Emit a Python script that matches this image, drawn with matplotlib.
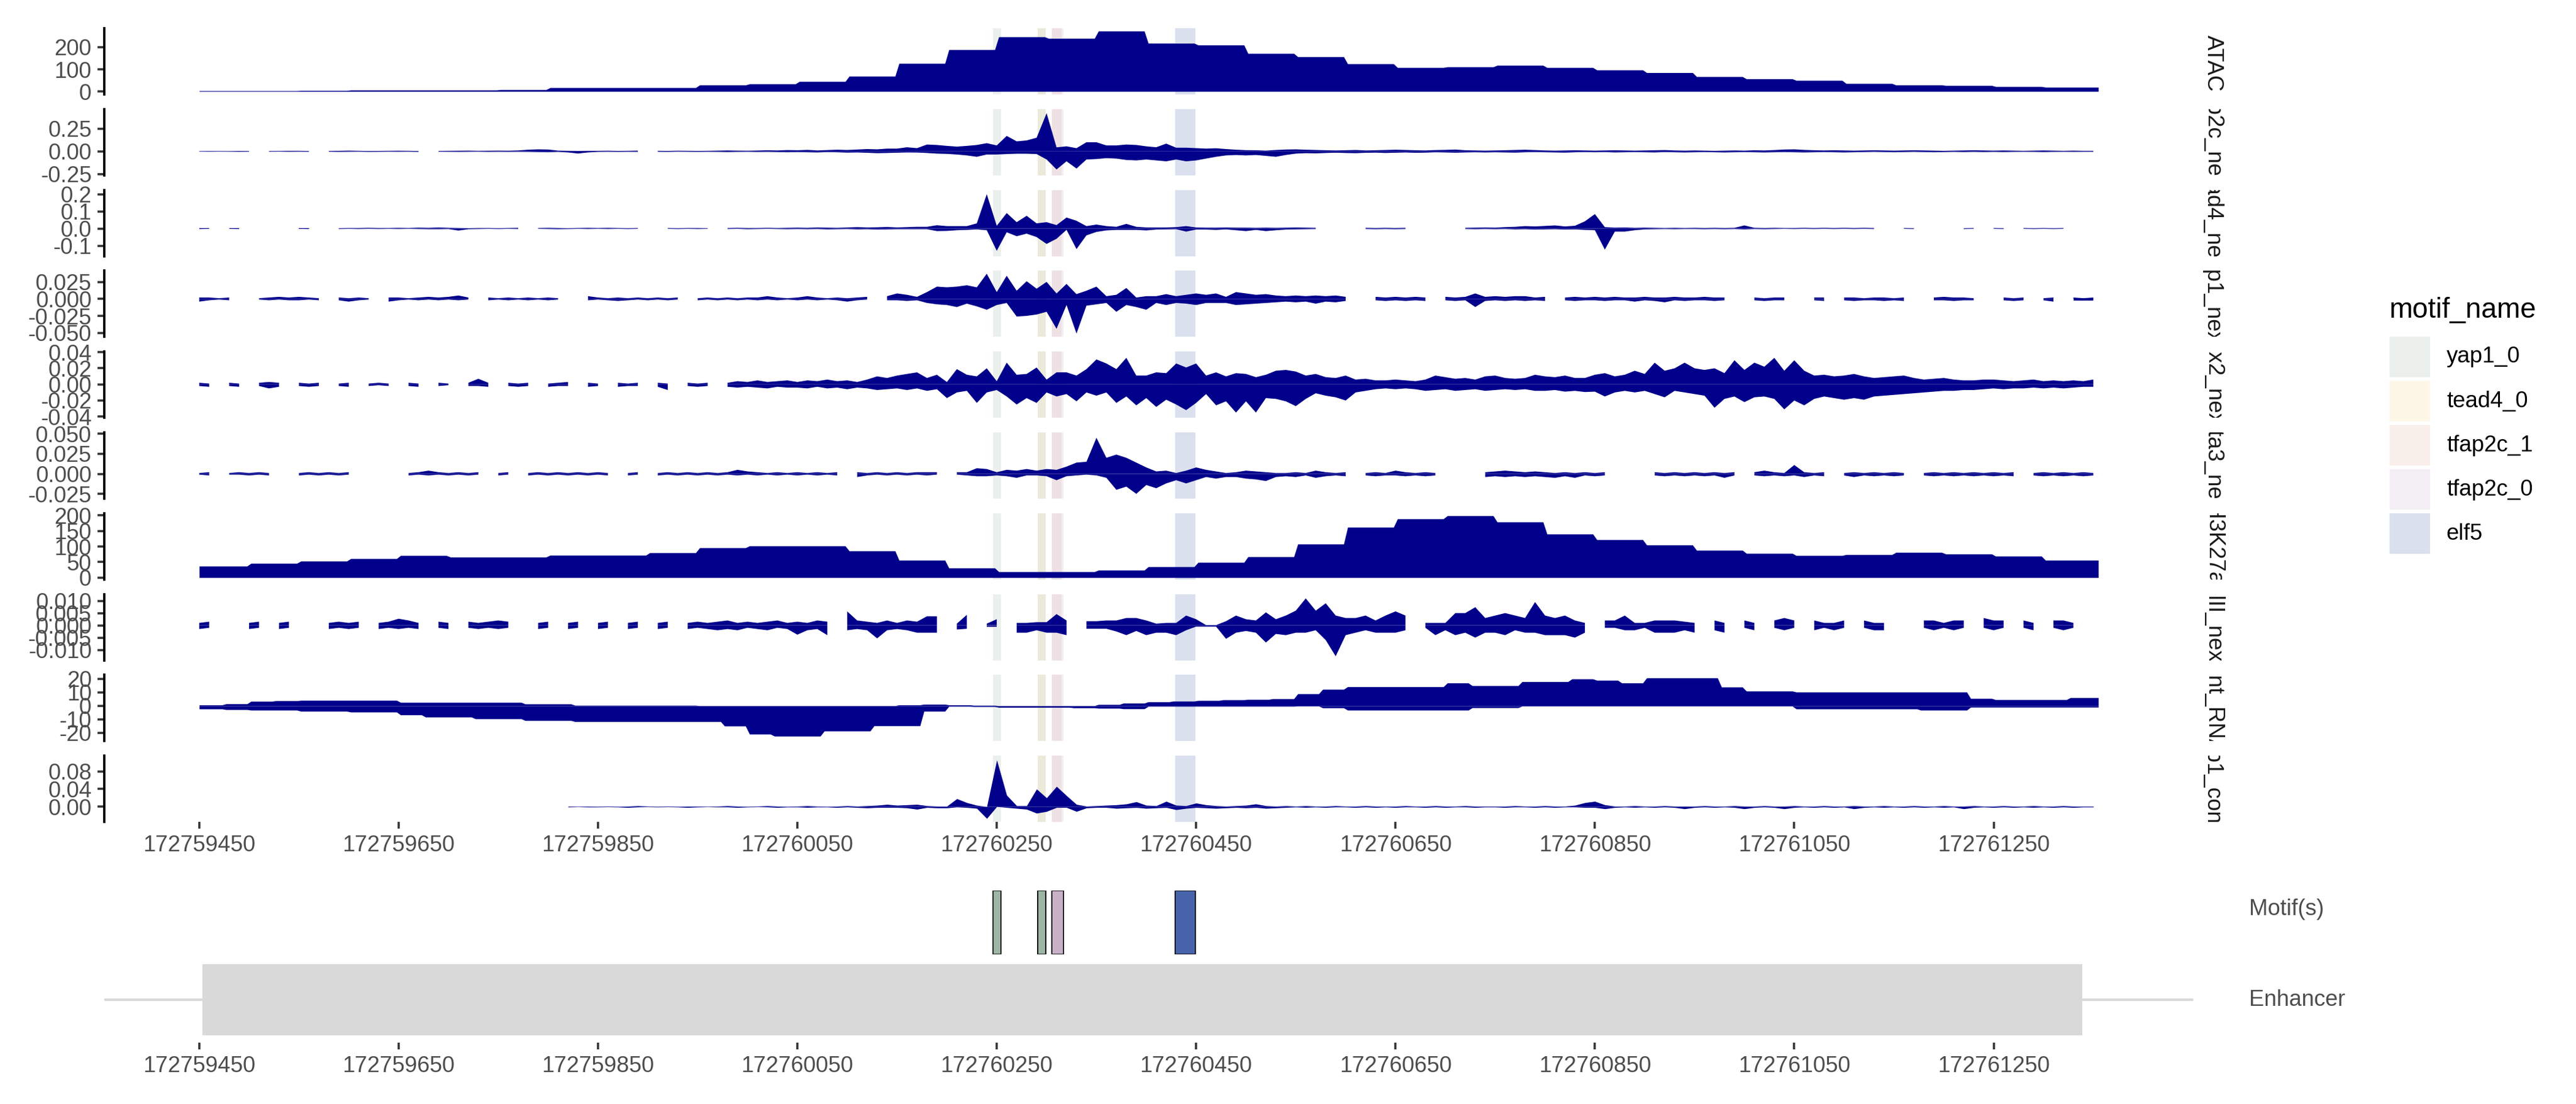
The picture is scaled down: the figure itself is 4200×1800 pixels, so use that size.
import numpy as np
import matplotlib
matplotlib.use('Agg')
import matplotlib.pyplot as plt
from matplotlib.patches import Rectangle

plt.rcParams['font.family'] = ['Liberation Sans', 'DejaVu Sans']

na = np.nan

# genomic window shown
region_start = 172759450
region_end = 172761355
xtick_pos = [172759450, 172759650, 172759850, 172760050, 172760250,
             172760450, 172760650, 172760850, 172761050, 172761250]

# ---- 50 bp bins ----
atac = [3, 3, 4, 6, 6, 6, 8, 17, 17, 17,
        29, 34, 45, 69, 127, 189, 247, 240, 273, 218,
        210, 172, 157, 125, 108, 111, 118, 108, 97, 85,
        67, 57, 50, 36, 29, 27, 22, 19, 19]
h3k27ac = [37, 46, 53, 61, 71, 66, 66, 72, 72, 80,
           96, 102, 102, 86, 56, 31, 19, 19, 24, 35,
           49, 67, 108, 162, 189, 199, 179, 140, 122, 105,
           88, 78, 71, 74, 81, 76, 69, 56, 56]

# ---- 25 bp bins ----
nascent_plus = [0.7, 1.5, 3.4, 3.8, 4.1, 4.1, 4.1, 4.1, 2.6, 2.6,
                2.6, 2.6, 2.6, 1.4, 1.4, 0.4, 0.4, 0.4, 0.4, 0.4,
                0.1, 0.1, 0.1, 0.1, 0.1, 0.1, 0.1, 0.1, 0.7, 1.2,
                0.7, 0.4, 0.1, 0.1, 0.1, 0.1, 1.0, 2.0, 3.0, 3.5,
                4.0, 4.5, 4.8, 5.3, 9.0, 12.3, 14.2, 14.2, 14.2, 14.2,
                17.0, 15.0, 15.0, 18.0, 18.0, 20.0, 19.0, 17.0, 20.8, 20.8,
                20.8, 14.0, 11.0, 11.0, 10.3, 10.3, 10.3, 10.3, 10.3, 10.3,
                10.3, 5.5, 4.6, 4.6, 4.6, 6.1, 6.1]
nascent_minus = [-2.3, -2.8, -3.2, -3.2, -4.0, -4.0, -4.6, -4.6, -6.7, -8.3,
                 -8.3, -9.6, -9.6, -10.9, -10.9, -11.7, -11.7, -11.7, -11.7, -11.7,
                 -11.7, -15.0, -21.0, -22.5, -22.5, -18.7, -18.7, -14.8, -14.8, -4.0,
                 -0.4, -0.6, -1.1, -1.1, -1.1, -1.5, -1.8, -2.2, -0.4, -0.4,
                 -0.4, -0.4, -0.4, -0.4, -0.2, -1.5, -3.2, -3.2, -3.2, -3.2,
                 -3.2, -1.4, -1.4, -0.2, -0.2, -0.2, -0.2, -0.2, -0.2, -0.2,
                 -0.2, -0.2, -0.2, -0.2, -2.3, -2.3, -2.3, -2.3, -2.3, -3.2,
                 -3.2, -1.0, -1.0, -1.0, -1.0, -1.0, -1.0]

# ---- 10 bp bins (one line = 100 bp) ----
tfap2c_plus = [
    0.003, 0.004, 0.004, 0.003, 0.005, 0.004, na, 0.004, 0.005, 0.006,
    0.006, 0.004, na, 0.005, 0.006, 0.008, 0.006, 0.004, 0.005, 0.006,
    0.007, 0.006, 0.004, na, 0.005, 0.006, 0.007, 0.008, 0.006, 0.007,
    0.008, 0.007, 0.010, 0.018, 0.022, 0.020, 0.008, 0.006, 0.005, 0.006,
    0.006, 0.007, 0.005, 0.006, 0.008, na, 0.006, 0.005, 0.007, 0.006,
    0.005, 0.006, 0.008, 0.010, 0.008, 0.007, 0.009, 0.012, 0.010, 0.014,
    0.012, 0.016, 0.010, 0.014, 0.018, 0.015, 0.020, 0.025, 0.022, 0.030,
    0.030, 0.045, 0.035, 0.075, 0.070, 0.060, 0.052, 0.060, 0.070, 0.090,
    0.065, 0.170, 0.110, 0.120, 0.150, 0.420, 0.044, 0.055, 0.035, 0.100,
    0.100, 0.065, 0.065, 0.075, 0.070, 0.055, 0.045, 0.085, 0.040, 0.040,
    0.035, 0.030, 0.034, 0.025, 0.018, 0.013, 0.012, 0.008, 0.015, 0.020,
    0.022, 0.018, 0.015, 0.012, 0.010, 0.012, 0.015, 0.010, 0.012, 0.015,
    0.018, 0.015, 0.012, 0.010, 0.014, 0.016, 0.020, 0.012, 0.010, 0.008,
    0.010, 0.012, 0.015, 0.018, 0.014, 0.010, 0.008, 0.010, 0.012, 0.010,
    0.008, 0.010, 0.012, 0.010, 0.008, 0.010, 0.012, 0.014, 0.010, 0.008,
    0.010, 0.008, 0.006, 0.008, 0.010, 0.008, 0.012, 0.010, 0.014, 0.020,
    0.022, 0.016, 0.012, 0.010, 0.012, 0.010, 0.008, 0.010, 0.012, 0.010,
    0.008, 0.010, 0.012, 0.010, 0.008, 0.006, 0.008, 0.010, 0.012, 0.010,
    0.008, 0.010, 0.008, 0.006, 0.008, 0.010, 0.008, 0.006, 0.008, 0.006,
    0.006]
tfap2c_minus = [
    -0.003, -0.004, -0.003, -0.004, -0.005, -0.004, na, -0.004, -0.003, -0.005,
    -0.004, -0.005, na, -0.004, -0.006, -0.005, -0.004, -0.006, -0.005, -0.004,
    -0.005, -0.004, -0.006, na, -0.004, -0.005, -0.006, -0.005, -0.004, -0.006,
    -0.005, -0.006, -0.005, -0.006, -0.008, -0.010, -0.006, -0.012, -0.024, -0.012,
    -0.006, -0.005, -0.006, -0.005, -0.006, na, -0.005, -0.006, -0.004, -0.005,
    -0.006, -0.005, -0.006, -0.008, -0.006, -0.005, -0.007, -0.006, -0.008, -0.010,
    -0.008, -0.010, -0.012, -0.008, -0.010, -0.014, -0.012, -0.016, -0.020, -0.018,
    -0.015, -0.012, -0.013, -0.018, -0.025, -0.028, -0.035, -0.045, -0.060, -0.035,
    -0.035, -0.030, -0.026, -0.026, -0.030, -0.090, -0.200, -0.110, -0.190, -0.090,
    -0.085, -0.075, -0.080, -0.095, -0.100, -0.090, -0.100, -0.110, -0.090, -0.110,
    -0.100, -0.080, -0.060, -0.045, -0.040, -0.045, -0.040, -0.050, -0.060, -0.040,
    -0.025, -0.020, -0.022, -0.018, -0.015, -0.018, -0.020, -0.016, -0.014, -0.018,
    -0.015, -0.012, -0.016, -0.014, -0.010, -0.012, -0.015, -0.012, -0.010, -0.012,
    -0.010, -0.012, -0.014, -0.010, -0.008, -0.010, -0.012, -0.014, -0.010, -0.008,
    -0.010, -0.008, -0.012, -0.010, -0.008, -0.010, -0.012, -0.008, -0.010, -0.012,
    -0.010, -0.008, -0.010, -0.012, -0.010, -0.008, -0.010, -0.012, -0.010, -0.008,
    -0.010, -0.012, -0.010, -0.008, -0.010, -0.012, -0.010, -0.008, -0.006, -0.008,
    -0.010, -0.008, -0.006, -0.008, -0.010, -0.008, -0.006, -0.008, -0.006, -0.008,
    -0.006, -0.008, -0.006, -0.005, -0.006, -0.008, -0.006, -0.005, -0.006, -0.005,
    -0.005]

tead4_plus = [
    0.003, 0.003, na, 0.002, 0.002, na, na, na, na, na,
    0.003, 0.003, na, na, 0.002, 0.003, 0.003, 0.004, 0.003, 0.003,
    0.004, 0.003, 0.005, 0.004, 0.006, 0.004, 0.003, 0.002, 0.003, 0.003,
    0.002, 0.003, 0.004, na, 0.003, 0.004, 0.003, 0.002, 0.003, 0.004,
    0.003, 0.004, 0.003, 0.002, 0.003, na, na, 0.003, 0.002, 0.003,
    0.003, 0.002, na, 0.003, 0.004, 0.003, 0.003, 0.004, 0.003, 0.004,
    0.005, 0.004, 0.006, 0.005, 0.004, 0.006, 0.008, 0.006, 0.007, 0.009,
    0.006, 0.008, 0.010, 0.010, 0.019, 0.014, 0.014, 0.014, 0.030, 0.200,
    0.016, 0.090, 0.037, 0.074, 0.030, 0.037, 0.020, 0.064, 0.045, 0.014,
    0.023, 0.014, 0.010, 0.027, 0.010, 0.006, 0.006, 0.006, 0.008, 0.014,
    0.006, 0.005, 0.005, 0.006, 0.005, 0.005, 0.004, 0.005, 0.004, 0.005,
    0.006, 0.005, 0.004, na, 0.004, na, na, 0.004, 0.003, 0.004,
    0.003, 0.004, na, na, na, 0.003, na, 0.004, 0.005, 0.006,
    0.005, 0.008, 0.010, 0.014, 0.012, 0.015, 0.018, 0.012, 0.016, 0.042,
    0.084, 0.008, 0.005, 0.006, 0.004, 0.005, 0.004, 0.003, 0.004, 0.003,
    0.004, 0.003, 0.004, 0.003, 0.004, 0.018, 0.004, 0.003, 0.004, 0.003,
    0.003, 0.004, 0.003, 0.004, 0.003, 0.004, 0.003, 0.004, 0.003, na,
    na, 0.003, 0.002, na, 0.003, na, na, 0.002, 0.003, na,
    0.003, 0.002, na, 0.003, 0.002, 0.003, 0.002, 0.003, na, na,
    0.002]
tead4_minus = [
    -0.003, -0.002, na, -0.002, -0.003, na, na, na, na, na,
    -0.002, -0.003, na, na, -0.003, -0.002, -0.003, -0.002, -0.003, -0.002,
    -0.003, -0.002, -0.003, -0.004, -0.004, -0.003, -0.012, -0.004, -0.003, -0.002,
    -0.003, -0.002, -0.003, na, -0.002, -0.003, -0.004, -0.003, -0.002, -0.003,
    -0.002, -0.003, -0.002, -0.003, -0.002, na, na, -0.002, -0.003, -0.002,
    -0.003, -0.002, na, -0.003, -0.002, -0.004, -0.003, -0.002, -0.003, -0.004,
    -0.003, -0.004, -0.003, -0.005, -0.004, -0.003, -0.005, -0.004, -0.006, -0.005,
    -0.004, -0.004, -0.004, -0.004, -0.015, -0.014, -0.010, -0.008, -0.005, -0.010,
    -0.130, -0.022, -0.045, -0.030, -0.050, -0.090, -0.060, -0.008, -0.120, -0.040,
    -0.020, -0.011, -0.008, -0.008, -0.008, -0.011, -0.006, -0.005, -0.004, -0.018,
    -0.006, -0.006, -0.008, -0.005, -0.010, -0.015, -0.008, -0.015, -0.010, -0.006,
    -0.005, -0.004, -0.003, na, -0.003, na, na, -0.003, -0.004, -0.003,
    -0.004, -0.003, na, na, na, -0.003, na, -0.003, -0.004, -0.003,
    -0.004, -0.003, -0.005, -0.004, -0.006, -0.005, -0.004, -0.006, -0.005, -0.008,
    -0.010, -0.123, -0.018, -0.018, -0.010, -0.005, -0.004, -0.003, -0.004, -0.003,
    -0.003, -0.004, -0.003, -0.004, -0.003, -0.005, -0.003, -0.004, -0.003, -0.002,
    -0.003, -0.002, -0.003, -0.002, -0.003, -0.002, -0.003, -0.002, -0.003, na,
    na, -0.002, -0.003, na, -0.002, na, na, -0.003, -0.002, na,
    -0.002, -0.003, na, -0.002, -0.003, -0.002, -0.003, -0.002, na, na,
    -0.002]

yap1_plus = [
    0.002, 0.002, 0.001, 0.002, na, na, 0.001, 0.002, 0.003, 0.002,
    0.003, 0.002, 0.001, na, 0.002, 0.001, 0.002, 0.001, na, 0.002,
    0.002, 0.001, 0.002, 0.003, 0.002, 0.003, 0.005, 0.002, na, 0.002,
    0.001, 0.002, 0.001, 0.002, 0.001, 0.002, 0.001, na, na, 0.004,
    0.002, 0.001, 0.002, 0.001, 0.002, 0.001, 0.002, 0.001, 0.002, na,
    0.001, 0.002, 0.001, 0.002, 0.001, 0.002, 0.002, 0.004, 0.002, 0.001,
    0.002, 0.004, 0.002, 0.001, 0.002, 0.001, 0.002, 0.003, na, 0.004,
    0.008, 0.006, 0.003, 0.010, 0.018, 0.017, 0.018, 0.020, 0.017, 0.037,
    0.010, 0.034, 0.012, 0.026, 0.015, 0.025, 0.008, 0.022, 0.007, 0.012,
    0.018, 0.004, 0.006, 0.016, 0.002, 0.004, 0.004, 0.007, 0.004, 0.006,
    0.008, 0.006, 0.008, 0.003, 0.010, 0.008, 0.006, 0.007, 0.005, 0.004,
    0.005, 0.004, 0.005, 0.004, 0.005, 0.003, na, na, 0.003, 0.002,
    0.003, 0.002, 0.003, 0.002, na, 0.003, 0.002, 0.003, 0.008, 0.003,
    0.004, 0.003, 0.004, 0.004, 0.002, 0.003, na, 0.002, 0.003, 0.002,
    0.003, 0.002, 0.003, 0.002, 0.002, 0.003, 0.002, 0.002, 0.003, 0.002,
    0.002, 0.003, 0.002, 0.002, na, na, 0.002, 0.001, 0.002, 0.002,
    na, na, 0.002, 0.002, na, 0.002, 0.002, 0.001, 0.002, 0.002,
    0.001, 0.002, na, na, 0.002, 0.003, 0.002, 0.002, 0.001, na,
    na, 0.002, 0.001, 0.002, na, 0.001, 0.002, na, 0.002, 0.001,
    0.002]
yap1_minus = [
    -0.004, -0.002, -0.001, -0.002, na, na, -0.001, -0.002, -0.001, -0.002,
    -0.002, -0.001, -0.002, na, -0.002, -0.004, -0.002, -0.001, na, -0.004,
    -0.002, -0.001, -0.002, -0.001, -0.002, -0.001, -0.002, -0.001, na, -0.002,
    -0.001, -0.002, -0.001, -0.002, -0.001, -0.002, -0.001, na, na, -0.002,
    -0.001, -0.002, -0.003, -0.002, -0.001, -0.002, -0.001, -0.002, -0.001, na,
    -0.002, -0.001, -0.002, -0.001, -0.002, -0.001, -0.002, -0.001, -0.002, -0.001,
    -0.002, -0.001, -0.002, -0.001, -0.002, -0.004, -0.002, -0.001, na, -0.002,
    -0.002, -0.003, -0.002, -0.006, -0.008, -0.009, -0.012, -0.007, -0.011, -0.016,
    -0.009, -0.006, -0.026, -0.025, -0.023, -0.019, -0.044, -0.009, -0.051, -0.010,
    -0.008, -0.006, -0.019, -0.009, -0.012, -0.016, -0.006, -0.009, -0.006, -0.007,
    -0.009, -0.006, -0.006, -0.006, -0.009, -0.008, -0.007, -0.006, -0.005, -0.004,
    -0.005, -0.004, -0.007, -0.004, -0.005, -0.003, na, na, -0.002, -0.003,
    -0.002, -0.003, -0.002, -0.003, na, -0.002, -0.003, -0.002, -0.012, -0.003,
    -0.002, -0.003, -0.002, -0.003, -0.002, -0.003, na, -0.002, -0.003, -0.002,
    -0.002, -0.003, -0.002, -0.002, -0.004, -0.002, -0.003, -0.005, -0.002, -0.003,
    -0.002, -0.002, -0.003, -0.002, na, na, -0.002, -0.003, -0.002, -0.002,
    na, na, -0.002, -0.003, na, -0.002, -0.003, -0.002, -0.002, -0.003,
    -0.002, -0.003, na, na, -0.002, -0.002, -0.003, -0.002, -0.002, na,
    na, -0.002, -0.003, -0.002, na, -0.002, -0.004, na, -0.002, -0.002,
    -0.002]

cdx2_plus = [
    0.002, 0.001, na, 0.002, 0.001, na, 0.002, 0.003, 0.002, na,
    0.002, 0.001, 0.002, na, 0.001, 0.002, na, 0.001, 0.002, 0.001,
    na, 0.002, 0.001, na, 0.002, 0.001, na, 0.002, 0.007, 0.002,
    na, 0.002, 0.001, 0.002, na, 0.001, 0.002, 0.003, na, 0.002,
    0.001, na, 0.002, 0.001, 0.002, na, 0.002, 0.001, na, 0.002,
    0.001, 0.002, na, 0.002, 0.004, 0.003, 0.005, 0.003, 0.004, 0.005,
    0.003, 0.005, 0.004, 0.006, 0.004, 0.005, 0.003, 0.006, 0.010, 0.008,
    0.011, 0.013, 0.015, 0.008, 0.012, 0.003, 0.019, 0.012, 0.010, 0.020,
    0.004, 0.027, 0.012, 0.013, 0.021, 0.006, 0.015, 0.015, 0.011, 0.019,
    0.031, 0.026, 0.019, 0.033, 0.011, 0.011, 0.015, 0.014, 0.026, 0.021,
    0.026, 0.011, 0.015, 0.010, 0.014, 0.013, 0.009, 0.012, 0.017, 0.018,
    0.016, 0.011, 0.013, 0.009, 0.008, 0.011, 0.006, 0.007, 0.005, 0.005,
    0.006, 0.005, 0.004, 0.006, 0.011, 0.009, 0.007, 0.008, 0.006, 0.010,
    0.011, 0.008, 0.007, 0.008, 0.012, 0.010, 0.009, 0.011, 0.008, 0.008,
    0.012, 0.014, 0.010, 0.012, 0.017, 0.013, 0.027, 0.017, 0.020, 0.027,
    0.020, 0.018, 0.020, 0.014, 0.030, 0.018, 0.027, 0.022, 0.033, 0.017,
    0.030, 0.017, 0.011, 0.012, 0.010, 0.011, 0.013, 0.010, 0.008, 0.009,
    0.010, 0.011, 0.008, 0.006, 0.007, 0.008, 0.006, 0.005, 0.005, 0.006,
    0.006, 0.005, 0.004, 0.005, 0.006, 0.004, 0.005, 0.004, 0.005, 0.004,
    0.006]
cdx2_minus = [
    -0.002, -0.003, na, -0.002, -0.003, na, -0.002, -0.005, -0.003, na,
    -0.002, -0.003, -0.002, na, -0.002, -0.003, na, -0.002, -0.001, -0.002,
    na, -0.002, -0.003, na, -0.002, -0.001, na, -0.002, -0.002, -0.003,
    na, -0.002, -0.003, -0.002, na, -0.003, -0.002, -0.002, na, -0.003,
    -0.002, na, -0.003, -0.002, -0.002, na, -0.003, -0.007, na, -0.002,
    -0.003, -0.002, na, -0.003, -0.004, -0.003, -0.004, -0.005, -0.003, -0.004,
    -0.004, -0.005, -0.003, -0.005, -0.004, -0.006, -0.004, -0.005, -0.007, -0.006,
    -0.005, -0.007, -0.005, -0.008, -0.006, -0.017, -0.010, -0.008, -0.023, -0.010,
    -0.007, -0.015, -0.025, -0.017, -0.023, -0.010, -0.015, -0.012, -0.021, -0.010,
    -0.014, -0.010, -0.023, -0.015, -0.026, -0.017, -0.028, -0.019, -0.025, -0.032,
    -0.023, -0.012, -0.026, -0.021, -0.035, -0.021, -0.035, -0.017, -0.018, -0.021,
    -0.027, -0.018, -0.011, -0.014, -0.016, -0.020, -0.010, -0.008, -0.006, -0.005,
    -0.006, -0.005, -0.006, -0.008, -0.007, -0.006, -0.008, -0.007, -0.006, -0.008,
    -0.007, -0.006, -0.007, -0.006, -0.008, -0.008, -0.007, -0.009, -0.008, -0.0095,
    -0.009, -0.015, -0.010, -0.008, -0.010, -0.008, -0.012, -0.016, -0.008, -0.010,
    -0.012, -0.014, -0.029, -0.018, -0.015, -0.022, -0.016, -0.015, -0.018, -0.031,
    -0.020, -0.026, -0.018, -0.015, -0.017, -0.019, -0.017, -0.019, -0.015, -0.014,
    -0.013, -0.012, -0.011, -0.010, -0.009, -0.008, -0.008, -0.007, -0.007, -0.006,
    -0.005, -0.006, -0.005, -0.005, -0.004, -0.005, -0.004, -0.005, -0.004, -0.003,
    -0.003]

gata3_plus = [
    0.001, 0.002, na, 0.001, 0.002, 0.001, 0.002, 0.001, na, na,
    0.001, 0.002, 0.001, 0.002, 0.001, 0.002, na, na, na, na,
    na, 0.001, 0.002, 0.004, 0.002, 0.001, 0.002, 0.001, 0.002, na,
    0.001, 0.002, na, 0.001, 0.002, 0.001, 0.002, 0.001, 0.002, 0.001,
    0.002, 0.001, na, 0.001, 0.002, na, 0.001, 0.002, 0.001, 0.002,
    0.001, 0.002, 0.001, 0.002, 0.005, 0.003, 0.002, 0.001, 0.002, 0.001,
    0.002, 0.001, 0.002, 0.001, 0.002, na, 0.002, 0.001, 0.002, 0.001,
    0.002, 0.001, 0.002, 0.002, 0.002, na, 0.002, 0.002, 0.007, 0.006,
    0.002, 0.005, 0.004, 0.006, 0.004, 0.006, 0.005, 0.009, 0.014, 0.015,
    0.045, 0.020, 0.024, 0.020, 0.014, 0.008, 0.003, 0.004, 0.001, 0.004,
    0.008, 0.005, 0.003, 0.001, 0.002, 0.004, 0.003, 0.002, 0.001, 0.001,
    0.002, 0.001, 0.004, 0.002, 0.001, 0.002, na, 0.001, 0.002, 0.001,
    0.004, 0.002, 0.001, 0.002, 0.001, na, na, na, na, 0.002,
    0.003, 0.004, 0.003, 0.002, 0.003, 0.002, 0.001, 0.002, 0.001, 0.002,
    0.001, 0.002, na, na, na, na, 0.002, 0.001, 0.002, 0.001,
    0.002, 0.001, 0.002, 0.001, 0.002, na, 0.002, 0.004, 0.002, 0.001,
    0.011, 0.002, 0.001, 0.002, na, 0.001, 0.002, 0.001, 0.002, 0.001,
    0.002, 0.001, na, 0.001, 0.002, 0.001, 0.002, 0.001, 0.002, 0.001,
    0.002, 0.001, 0.002, na, 0.001, 0.002, 0.001, 0.002, 0.001, 0.002,
    0.001]
gata3_minus = [
    -0.001, -0.002, na, -0.001, -0.001, -0.002, -0.001, -0.002, na, na,
    -0.002, -0.001, -0.002, -0.001, -0.002, -0.001, na, na, na, na,
    na, -0.002, -0.001, -0.002, -0.001, -0.002, -0.001, -0.002, -0.001, na,
    -0.002, -0.001, na, -0.002, -0.001, -0.002, -0.001, -0.002, -0.001, -0.002,
    -0.001, -0.002, na, -0.002, -0.001, na, -0.002, -0.001, -0.002, -0.001,
    -0.002, -0.001, -0.002, -0.001, -0.002, -0.001, -0.002, -0.001, -0.002, -0.001,
    -0.002, -0.001, -0.002, -0.001, -0.002, na, -0.004, -0.002, -0.001, -0.002,
    -0.001, -0.002, -0.001, -0.002, -0.001, na, -0.001, -0.002, -0.003, -0.003,
    -0.002, -0.003, -0.005, -0.002, -0.002, -0.003, -0.008, -0.003, -0.002, -0.001,
    -0.002, -0.005, -0.020, -0.016, -0.025, -0.014, -0.018, -0.012, -0.008, -0.012,
    -0.008, -0.004, -0.006, -0.004, -0.004, -0.006, -0.007, -0.009, -0.004, -0.003,
    -0.004, -0.002, -0.005, -0.003, -0.002, -0.003, na, -0.002, -0.003, -0.002,
    -0.002, -0.003, -0.002, -0.003, -0.002, na, na, na, na, -0.004,
    -0.003, -0.004, -0.003, -0.004, -0.003, -0.004, -0.005, -0.003, -0.005, -0.002,
    -0.003, -0.002, na, na, na, na, -0.002, -0.003, -0.002, -0.003,
    -0.002, -0.003, -0.002, -0.005, -0.002, na, -0.002, -0.003, -0.002, -0.003,
    -0.002, -0.004, -0.002, -0.003, na, -0.002, -0.004, -0.002, -0.003, -0.002,
    -0.003, -0.002, na, -0.002, -0.003, -0.002, -0.003, -0.002, -0.003, -0.002,
    -0.003, -0.002, -0.003, na, -0.002, -0.003, -0.002, -0.003, -0.002, -0.003,
    -0.002]

polii_plus = [
    0.001, 0.0015, na, na, na, 0.001, 0.0015, na, 0.001, 0.0015,
    na, na, na, 0.001, 0.0015, 0.001, 0.0015, na, 0.001, 0.0015,
    0.0027, 0.002, 0.001, na, 0.0015, 0.001, na, 0.0015, 0.001, 0.0015,
    0.002, 0.0015, na, na, 0.001, 0.0015, na, 0.001, 0.0015, na,
    0.001, 0.0015, na, 0.001, 0.0015, na, 0.001, 0.0015, na, 0.001,
    0.0015, 0.001, 0.0015, 0.002, 0.001, 0.0015, 0.001, 0.0015, 0.002, 0.001,
    0.0015, 0.001, 0.002, 0.0015, na, 0.0057, 0.002, 0.0015, 0.001, 0.002,
    0.001, 0.002, 0.0015, 0.0037, 0.0037, na, 0.0007, 0.0043, na, 0.0007,
    0.0025, na, 0.001, 0.001, 0.0013, 0.0013, 0.0046, 0.002, na, 0.0017,
    0.0017, 0.002, 0.002, 0.003, 0.003, 0.002, 0.0007, 0.001, 0.001, 0.004,
    0.0025, 0.0001, 0.0001, 0.0017, 0.004, 0.0025, 0.002, 0.0053, 0.0025, 0.004,
    0.006, 0.011, 0.006, 0.009, 0.004, 0.003, 0.003, 0.004, 0.002, 0.004,
    0.0057, 0.004, na, 0.001, 0.001, 0.001, 0.005, 0.005, 0.0074, 0.003,
    0.004, 0.005, 0.004, 0.003, 0.0095, 0.004, 0.003, 0.004, 0.002, 0.001,
    na, 0.002, 0.002, 0.004, 0.001, 0.001, 0.002, 0.002, 0.002, 0.0015,
    0.001, na, 0.002, 0.001, na, 0.002, 0.001, na, 0.002, 0.003,
    0.002, na, 0.002, 0.001, 0.001, 0.002, na, 0.002, 0.001, 0.001,
    na, na, na, 0.002, 0.002, 0.001, 0.002, 0.002, na, 0.003,
    0.002, 0.002, na, 0.002, 0.001, na, 0.002, 0.002, 0.001, na,
    na]
polii_minus = [
    -0.0015, -0.001, na, na, na, -0.0015, -0.001, na, -0.0015, -0.001,
    na, na, na, -0.0015, -0.001, -0.0015, -0.001, na, -0.0015, -0.001,
    -0.0015, -0.001, -0.0015, na, -0.001, -0.0015, na, -0.001, -0.0015, -0.001,
    -0.0015, -0.001, na, na, -0.0015, -0.001, na, -0.0015, -0.001, na,
    -0.0015, -0.001, na, -0.0015, -0.001, na, -0.0015, -0.001, na, -0.0015,
    -0.001, -0.0015, -0.002, -0.0015, -0.002, -0.001, -0.0015, -0.002, -0.001, -0.0015,
    -0.0038, -0.002, -0.0015, -0.004, na, -0.002, -0.0015, -0.002, -0.0053, -0.002,
    -0.0015, -0.002, -0.003, -0.003, -0.003, na, -0.0017, -0.0014, na, -0.0005,
    -0.0005, na, -0.003, -0.003, -0.002, -0.003, -0.003, -0.004, na, -0.0014,
    -0.0014, -0.0014, -0.0025, -0.004, -0.0023, -0.004, -0.003, -0.003, -0.004, -0.002,
    -0.0005, -0.0005, -0.0005, -0.0055, -0.003, -0.0023, -0.003, -0.007, -0.0035, -0.004,
    -0.003, -0.003, -0.002, -0.006, -0.0126, -0.004, -0.003, -0.002, -0.003, -0.003,
    -0.003, -0.002, na, -0.001, -0.004, -0.002, -0.004, -0.003, -0.005, -0.003,
    -0.003, -0.004, -0.002, -0.003, -0.003, -0.004, -0.004, -0.004, -0.005, -0.003,
    na, -0.001, -0.001, -0.002, -0.002, -0.001, -0.003, -0.003, -0.003, -0.002,
    -0.003, na, -0.002, -0.003, na, -0.001, -0.002, na, -0.001, -0.002,
    -0.001, na, -0.002, -0.001, -0.002, -0.001, na, -0.001, -0.002, -0.002,
    na, na, na, -0.001, -0.002, -0.001, -0.002, -0.001, na, -0.001,
    -0.002, -0.001, na, -0.001, -0.002, na, -0.001, -0.002, -0.001, na,
    na]

contrib_plus = [
    na, na, na, na, na, na, na, na, na, na,
    na, na, na, na, na, na, na, na, na, na,
    na, na, na, na, na, na, na, na, na, na,
    na, na, na, na, na, na, na, 0.001, 0.0005, 0.001,
    0.0005, 0.001, 0.0005, 0.001, 0.002, 0.001, 0.0005, 0.001, 0.0005, 0.001,
    0.001, 0.0005, 0.001, 0.002, 0.001, 0.0005, 0.001, 0.002, 0.001, 0.0005,
    0.001, 0.002, 0.001, 0.0005, 0.001, 0.002, 0.001, 0.002, 0.003, 0.005,
    0.003, 0.004, 0.005, 0.002, 0.001, 0.001, 0.018, 0.009, 0.003, 0.0,
    0.106, 0.026, 0.002, 0.002, 0.040, 0.020, 0.046, 0.025, 0.005, 0.001,
    0.002, 0.003, 0.004, 0.006, 0.011, 0.003, 0.002, 0.012, 0.003, 0.002,
    0.008, 0.004, 0.002, 0.001, 0.002, 0.003, 0.006, 0.002, 0.001, 0.002,
    0.001, 0.002, 0.001, 0.001, 0.002, 0.001, 0.001, 0.002, 0.001, 0.001,
    0.001, 0.002, 0.001, 0.001, 0.002, 0.001, 0.001, 0.002, 0.001, 0.001,
    0.001, 0.001, 0.002, 0.001, 0.001, 0.002, 0.001, 0.001, 0.003, 0.009,
    0.012, 0.004, 0.001, 0.001, 0.002, 0.001, 0.001, 0.002, 0.001, 0.001,
    0.001, 0.002, 0.001, 0.001, 0.002, 0.001, 0.001, 0.002, 0.001, 0.001,
    0.002, 0.001, 0.001, 0.002, 0.001, 0.001, 0.002, 0.001, 0.001, 0.002,
    0.001, 0.001, 0.002, 0.001, 0.001, 0.002, 0.001, 0.001, 0.002, 0.001,
    0.001, 0.002, 0.001, 0.001, 0.002, 0.001, 0.001, 0.002, 0.001, 0.001,
    0.001]
contrib_minus = [
    na, na, na, na, na, na, na, na, na, na,
    na, na, na, na, na, na, na, na, na, na,
    na, na, na, na, na, na, na, na, na, na,
    na, na, na, na, na, na, na, -0.001, -0.0005, -0.001,
    -0.001, -0.0005, -0.001, -0.002, -0.001, -0.0005, -0.001, -0.0005, -0.001, -0.002,
    -0.001, -0.0005, -0.001, -0.001, -0.002, -0.001, -0.0005, -0.001, -0.002, -0.001,
    -0.001, -0.002, -0.001, -0.001, -0.002, -0.001, -0.002, -0.003, -0.002, -0.002,
    -0.002, -0.003, -0.006, -0.002, -0.003, -0.003, -0.001, -0.002, -0.004, -0.027,
    0.0, -0.002, -0.004, -0.006, -0.015, -0.011, -0.002, -0.002, -0.011, -0.003,
    -0.002, -0.002, -0.004, -0.003, -0.002, -0.004, -0.003, -0.002, -0.007, -0.004,
    -0.002, -0.003, -0.004, -0.003, -0.002, -0.003, -0.002, -0.004, -0.003, -0.002,
    -0.001, -0.002, -0.001, -0.002, -0.001, -0.001, -0.002, -0.001, -0.002, -0.001,
    -0.002, -0.001, -0.001, -0.002, -0.001, -0.002, -0.001, -0.001, -0.002, -0.001,
    -0.001, -0.002, -0.001, -0.001, -0.002, -0.001, -0.002, -0.001, -0.001, -0.002,
    -0.002, -0.005, -0.002, -0.001, -0.002, -0.001, -0.002, -0.001, -0.002, -0.005,
    -0.002, -0.001, -0.002, -0.001, -0.002, -0.005, -0.002, -0.001, -0.002, -0.005,
    -0.002, -0.001, -0.002, -0.001, -0.002, -0.001, -0.005, -0.002, -0.001, -0.002,
    -0.001, -0.002, -0.001, -0.002, -0.001, -0.002, -0.001, -0.005, -0.002, -0.001,
    -0.002, -0.001, -0.002, -0.001, -0.002, -0.001, -0.002, -0.001, -0.002, -0.001,
    -0.001]

# motifs
motif_names = ['yap1_0', 'tead4_0', 'tfap2c_1', 'tfap2c_0', 'elf5']
motif_colors = ['#9DB5A4', '#FAD78C', '#DCAA96', '#C8B1C8', '#4764AA']
site_motif = ['yap1_0', 'tead4_0', 'yap1_0', 'tfap2c_1', 'tfap2c_0', 'elf5']
site_start = [172760246, 172760291, 172760291, 172760305, 172760305, 172760429]
site_end = [172760254, 172760299, 172760299, 172760315, 172760317, 172760449]
enh_start, enh_end = 172759453, 172761339

track_labels = ['ATAC', 'tfap2c_nexus', 'tead4_nexus', 'yap1_nexus', 'cdx2_nexus',
                'gata3_nexus', 'H3K27ac', 'polII_nexus', 'nascent_RNA_seq', 'yap1_contrib']
y_limits = [(-13.7, 286), (-0.264, 0.466), (-0.161, 0.225), (-0.056, 0.0414),
            (-0.0415, 0.0408), (-0.031, 0.0517), (-6, 207), (-0.01425, 0.01275),
            (-26.2, 23), (-0.035, 0.1157)]
y_ticks = [[0, 100, 200], [-0.25, 0, 0.25], [-0.1, 0, 0.1, 0.2],
           [-0.05, -0.025, 0, 0.025], [-0.04, -0.02, 0, 0.02, 0.04],
           [-0.025, 0, 0.025, 0.05], [0, 50, 100, 150, 200],
           [-0.01, -0.005, 0, 0.005, 0.01], [-20, -10, 0, 10, 20], [0, 0.04, 0.08]]
y_decimals = [0, 2, 1, 3, 2, 3, 0, 3, 0, 2]
# small downward shift (px) of the clipped strip labels
label_nudge = [3, 3, 8, 3, 7, 8, 7, 3, 3, 3]

signal_color = '#00008B'
W, H = 4200, 1800
xlim = (region_start - 95.25, region_end + 95.25)


def box(x0, y0, x1, y1):
    # pixel box (top-left origin) -> figure fraction rect
    return [x0 / W, 1 - y1 / H, (x1 - x0) / W, (y1 - y0) / H]


def binned_fill(ax, values, size):
    # plateau per bin with a short ramp between neighbouring bins
    starts = region_start + size * np.arange(len(values))
    ends = np.minimum(starts + size, region_end)
    xs = np.column_stack([starts + 2, ends - 2]).ravel().astype(float)
    xs[0], xs[-1] = region_start, region_end
    ys = np.repeat(values, 2)
    ax.fill_between(xs, 0, ys, color=signal_color, lw=0, zorder=2)


def nexus_fill(ax, plus, minus):
    x = region_start + 10 * np.arange(len(plus))
    ax.fill_between(x, 0, np.array(plus), color=signal_color, lw=0, zorder=2)
    ax.fill_between(x, np.array(minus), 0, color=signal_color, lw=0, zorder=2)


fig = plt.figure(figsize=(14, 6), dpi=300)

tick_kw = dict(length=2.75, width=0.85, color='#333333', labelsize=8.8,
               labelcolor='#4D4D4D', pad=2.2)

panel_top, panel_pitch, panel_h = 46, 131.8, 108
for i in range(10):
    top = panel_top + i * panel_pitch
    ax = fig.add_axes(box(170, top, 3576, top + panel_h))
    ax.set_xlim(xlim)
    ax.set_ylim(y_limits[i])

    for m, s, e in zip(site_motif, site_start, site_end):
        ax.axvspan(s, e, color=motif_colors[motif_names.index(m)], alpha=0.2, lw=0, zorder=1)

    if i == 0:
        binned_fill(ax, atac, 50)
    elif i == 6:
        binned_fill(ax, h3k27ac, 50)
    elif i == 8:
        binned_fill(ax, nascent_plus, 25)
        binned_fill(ax, nascent_minus, 25)
    else:
        pair = {1: (tfap2c_plus, tfap2c_minus), 2: (tead4_plus, tead4_minus),
                3: (yap1_plus, yap1_minus), 4: (cdx2_plus, cdx2_minus),
                5: (gata3_plus, gata3_minus), 7: (polii_plus, polii_minus),
                9: (contrib_plus, contrib_minus)}[i]
        nexus_fill(ax, *pair)

    for side in ['top', 'right', 'bottom']:
        ax.spines[side].set_visible(False)
    ax.spines['left'].set_linewidth(0.9)
    ax.spines['left'].set_color('black')
    ax.set_yticks(y_ticks[i])
    ax.set_yticklabels([f'{v:.{y_decimals[i]}f}' for v in y_ticks[i]])
    ax.tick_params(axis='y', **tick_kw)
    if i < 9:
        ax.tick_params(axis='x', bottom=False, labelbottom=False)
    else:
        ax.set_xticks(xtick_pos)
        ax.set_xticklabels([str(t) for t in xtick_pos])
        ax.tick_params(axis='x', **tick_kw)

    # facet strip on the right, label clipped to the strip box
    sax = fig.add_axes(box(3572, top, 3645, top + panel_h))
    sax.set_axis_off()
    sax.text(0.5, 0.5 - label_nudge[i] / panel_h, track_labels[i], rotation=-90,
             ha='center', va='center', transform=sax.transAxes, clip_on=True,
             fontsize=8.8, color='#1A1A1A')

# motif track
max_ = fig.add_axes(box(170, 1452, 3576, 1556))
max_.set_xlim(xlim)
max_.set_ylim(0, 1)
max_.set_axis_off()
for m, s, e in zip(site_motif, site_start, site_end):
    max_.add_patch(Rectangle((s, 0), e - s, 1, facecolor=motif_colors[motif_names.index(m)],
                             edgecolor='black', lw=0.4))
fig.text(3667 / W, 1 - 1483 / H, 'Motif(s)', ha='left', va='center',
         fontsize=8.8, color='#4D4D4D')

# enhancer track
eax = fig.add_axes(box(170, 1572, 3576, 1688))
eax.set_xlim(xlim)
eax.set_ylim(0, 1)
eax.axhline(0.5, color='#D9D9D9', lw=1.0, zorder=1)
eax.add_patch(Rectangle((enh_start, 0), enh_end - enh_start, 1, facecolor='#D9D9D9',
                        lw=0, zorder=2))
for side in ['top', 'right', 'left', 'bottom']:
    eax.spines[side].set_visible(False)
eax.spines['bottom'].set_position(('outward', 2.9))
eax.set_yticks([])
eax.set_xticks(xtick_pos)
eax.set_xticklabels([str(t) for t in xtick_pos])
eax.tick_params(axis='x', **tick_kw)
fig.text(3667 / W, 1 - 1630 / H, 'Enhancer', ha='left', va='center',
         fontsize=8.8, color='#4D4D4D')

# legend
fig.text(3895 / W, 1 - 518 / H, 'motif_name', ha='left', va='baseline',
         fontsize=11, color='black')
for k, (name, col) in enumerate(zip(motif_names, motif_colors)):
    ky = 549 + 72.1 * k
    fig.add_artist(Rectangle((3895.5 / W, 1 - (ky + 66) / H), 66.5 / W, 66 / H,
                             transform=fig.transFigure, facecolor=col, alpha=0.2, lw=0))
    fig.text(3989 / W, 1 - (ky + 33) / H, name, ha='left', va='center',
             fontsize=8.8, color='black')

fig.savefig('out.png', dpi=300)
